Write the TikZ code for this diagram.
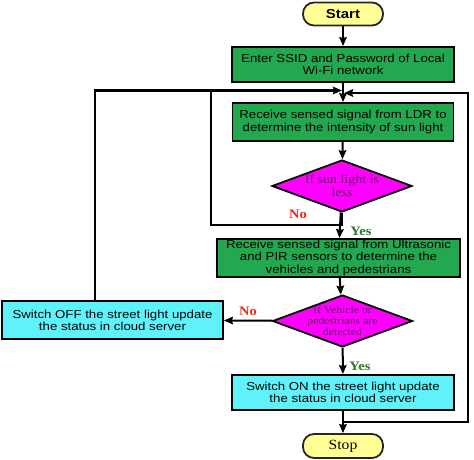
\documentclass[tikz,border=0pt]{standalone}
\usepackage{fontspec}
\setmainfont[FakeStretch=1.15]{Liberation Sans}
\newfontfamily\serifx[FakeStretch=1.12]{Liberation Serif}
\usetikzlibrary{shapes.geometric,arrows.meta,calc}
\definecolor{boxgreen}{RGB}{34,168,78}
\definecolor{boxcyan}{RGB}{96,242,250}
\definecolor{diamag}{RGB}{255,0,255}
\definecolor{termyel}{RGB}{255,255,150}
\definecolor{diatext}{RGB}{90,30,100}
\definecolor{nored}{RGB}{232,40,30}
\definecolor{yesgreen}{RGB}{40,120,40}
\tikzset{
  proc/.style={draw=black, line width=1.8pt, rectangle, align=center, inner sep=0pt,
    font=\fontsize{11.5}{12.2}\selectfont},
  gbox/.style={proc, fill=boxgreen},
  cbox/.style={proc, fill=boxcyan},
  dia/.style={draw=black, line width=1.8pt, diamond, fill=diamag, inner sep=0pt,
    minimum width=140pt, minimum height=52pt, aspect=2.7},
  diatxt/.style={align=center, text=diatext, inner sep=0pt},
  term/.style={draw=black!85, line width=1.8pt, rounded corners=11pt, fill=termyel,
    minimum width=80pt, minimum height=23pt, inner sep=0pt},
  conn/.style={line width=2pt, draw=black},
  arr/.style={conn, -{Stealth[length=9pt,width=7.5pt,inset=1pt]}},
  nolab/.style={text=nored, font=\serifx\bfseries\fontsize{13}{13}\selectfont},
  yeslab/.style={text=yesgreen, font=\serifx\bfseries\fontsize{13}{13}\selectfont}
}
\begin{document}
\begin{tikzpicture}[x=1pt,y=-1pt]
\useasboundingbox (0,0) rectangle (474,460);
% nodes
\node[term, font=\bfseries\fontsize{13}{13}\selectfont] (start) at (343,14) {Start};
\node[gbox, minimum width=222pt, minimum height=35pt] (b1) at (343,64.5)
  {Enter SSID and Password of Local\\Wi-Fi network};
\node[gbox, minimum width=221pt, minimum height=38pt] (b2) at (343,122)
  {Receive sensed signal from LDR to\\determine the intensity of sun light};
\node[dia, label={[diatxt, font=\serifx\fontsize{12.5}{13}\selectfont]center:If sun light is\\less}] (d1) at (342,186) {};
\node[gbox, minimum width=243pt, minimum height=38pt] (b3) at (338.5,258)
  {Receive sensed signal from Ultrasonic\\and PIR sensors to determine the\\vehicles and pedestrians};
\node[dia, label={[diatxt, font=\serifx\fontsize{10.5}{11}\selectfont]center:If Vehicle or\\pedestrians are\\detected}] (d2) at (342.5,321) {};
\node[cbox, minimum width=221pt, minimum height=38pt] (off) at (112.5,320)
  {Switch OFF the street light update\\the status in cloud server};
\node[cbox, minimum width=222pt, minimum height=35pt] (on) at (343,392.5)
  {Switch ON the street light update\\the status in cloud server};
\node[term, minimum height=24pt, font=\serifx\fontsize{14}{14}\selectfont] (stop) at (343,446) {Stop};
% helper coordinates
\coordinate (mL) at (342,90.5);
\coordinate (mR) at (344,93);
\coordinate (offtop) at (95,301);
\coordinate (lcorner) at (95,90.5);
\coordinate (nob) at (342,225);
\coordinate (nol) at (211,225);
\coordinate (notop) at (211,90.5);
\coordinate (onj) at (343,422);
\coordinate (rb) at (468,422);
\coordinate (rt) at (468,93);
% connectors
\draw[arr] (start) -- (b1);
\draw[arr] (b1) -- (b2);
\draw[arr] (offtop) -- (lcorner) -- (mL);
\draw[conn] (d1.south) -- (nob) -- (nol) -- (notop);
\draw[arr] (onj) -- (rb) -- (rt) -- (mR);
\draw[arr] (b2) -- (d1);
\draw[arr] (d1) -- (b3);
\draw[arr] (b3) -- (d2);
\draw[arr] (d2) -- (off);
\draw[arr] (d2) -- (on);
\draw[arr] (on) -- (stop);
% labels
\node[nolab] (no1) at (298,214) {No};
\node[yeslab] (yes1) at (361,231) {Yes};
\node[nolab] (no2) at (248,311) {No};
\node[yeslab] (yes2) at (360,366) {Yes};
\end{tikzpicture}
\end{document}
